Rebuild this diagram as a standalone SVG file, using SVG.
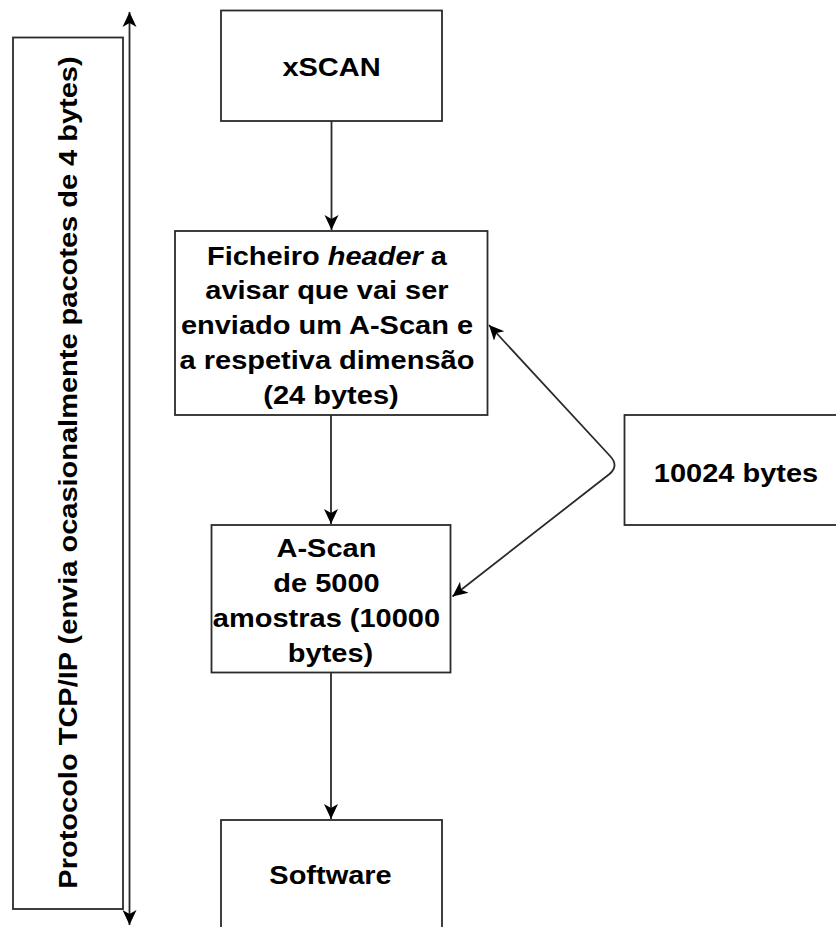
<svg xmlns="http://www.w3.org/2000/svg" width="836" height="927" viewBox="0 0 836 927">
  <style>
    .box { fill: #ffffff; stroke: #2a2a2a; stroke-width: 1.8; }
    .lbl { font-family: "Liberation Sans", Arial, Helvetica, sans-serif; font-weight: bold; font-size: 25px; fill: #000000; text-anchor: middle; }
    .edge { fill: none; stroke: #2a2a2a; stroke-width: 1.8; }
  </style>
  <defs>
    <marker id="arrow" viewBox="0 0 16 16" refX="15" refY="8" markerWidth="16" markerHeight="16" markerUnits="userSpaceOnUse" orient="auto-start-reverse">
      <path d="M0,1 L15,8 L0,15 L4,8 Z" fill="#000000"/>
    </marker>
  </defs>
  <rect width="836" height="927" fill="#ffffff"/>

  <!-- Protocol band on the left -->
  <g id="protocolo">
    <rect class="box" x="13" y="37.5" width="110" height="871.5"/>
    <text class="lbl" transform="translate(76.5,472.5) rotate(-90) scale(1.16,1)" x="0" y="0">Protocolo TCP/IP (envia ocasionalmente pacotes de 4 bytes)</text>
  </g>

  <g id="xscan">
    <rect class="box" x="221" y="10.5" width="221" height="110.5"/>
    <text class="lbl" transform="translate(331.5,76) scale(1.16,1)" x="0" y="0">xSCAN</text>
  </g>

  <g id="header">
    <rect class="box" x="175" y="231" width="312.5" height="184"/>
    <text class="lbl" transform="translate(331,264.5) scale(1.16,1)" x="0" y="0">
      <tspan x="0" dy="0">Ficheiro <tspan font-style="italic">header</tspan> a</tspan>
      <tspan x="0" dy="35">avisar que vai ser</tspan>
      <tspan x="0" dy="35">enviado um A-Scan e</tspan>
      <tspan x="0" dy="35">a respetiva dimensão</tspan>
      <tspan x="0" dy="35">(24 bytes)</tspan>
    </text>
  </g>

  <g id="ascan">
    <rect class="box" x="211.5" y="525" width="239" height="147.5"/>
    <text class="lbl" transform="translate(330.5,557) scale(1.16,1)" x="0" y="0">
      <tspan x="0" dy="0">A-Scan</tspan>
      <tspan x="0" dy="35">de 5000</tspan>
      <tspan x="0" dy="35">amostras (10000</tspan>
      <tspan x="0" dy="35">bytes)</tspan>
    </text>
  </g>

  <g id="bytes10024">
    <rect class="box" x="624.5" y="415" width="224" height="110"/>
    <text class="lbl" transform="translate(736,481.5) scale(1.16,1)" x="0" y="0">10024 bytes</text>
  </g>

  <g id="software">
    <rect class="box" x="221" y="820" width="221" height="120"/>
    <text class="lbl" transform="translate(330.5,883.5) scale(1.16,1)" x="0" y="0">Software</text>
  </g>

  <g id="connectors">
    <!-- two-way arrow along the protocol band -->
    <path class="edge" d="M129.5,12 L129.5,925" marker-start="url(#arrow)" marker-end="url(#arrow)"/>
    <!-- main flow -->
    <path class="edge" d="M331.5,121 L331.5,230" marker-end="url(#arrow)"/>
    <path class="edge" d="M331,415 L331,524" marker-end="url(#arrow)"/>
    <path class="edge" d="M331,672.5 L331,819" marker-end="url(#arrow)"/>
    <!-- 10024 bytes split into header and A-Scan -->
    <path class="edge" d="M489,325 L610.5,456.5 Q619,466 609.5,474 L452.5,596.5" marker-start="url(#arrow)" marker-end="url(#arrow)"/>
  </g>
</svg>
